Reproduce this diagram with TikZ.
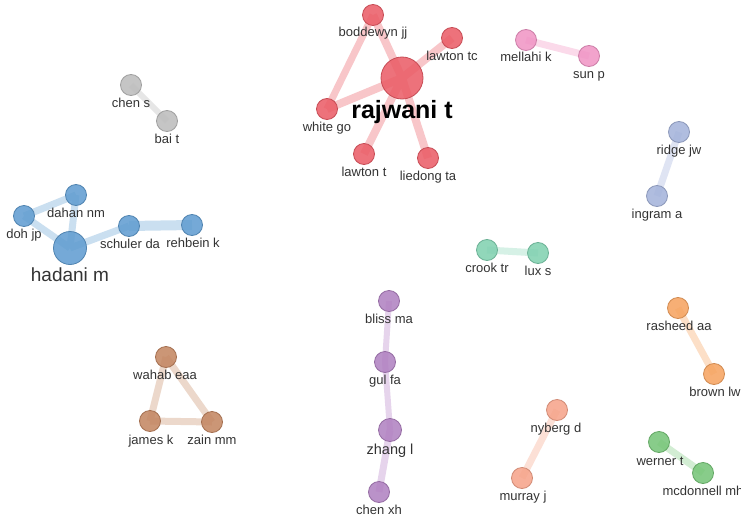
\documentclass[tikz,border=0pt]{standalone}
\usepackage{fontspec}
\setmainfont{Liberation Sans}
\pgfdeclarelayer{bg}
\pgfdeclarelayer{edges}
\pgfsetlayers{bg,edges,main}
\definecolor{labc}{HTML}{333333}
\definecolor{redN}{HTML}{EA5A64}\definecolor{redE}{HTML}{F8C6C9}
\definecolor{pinkN}{HTML}{F093C4}\definecolor{pinkE}{HTML}{FBDAEA}
\definecolor{grayN}{HTML}{BBBBBB}\definecolor{grayE}{HTML}{E6E6E6}
\definecolor{blueN}{HTML}{5E9BD0}\definecolor{blueE}{HTML}{CADFF0}
\definecolor{lavN}{HTML}{A3B2DA}\definecolor{lavE}{HTML}{DFE4F3}
\definecolor{tealN}{HTML}{7ED0AF}\definecolor{tealE}{HTML}{D6F1E6}
\definecolor{purN}{HTML}{AF7FC0}\definecolor{purE}{HTML}{E6D4EC}
\definecolor{brnN}{HTML}{C2845F}\definecolor{brnE}{HTML}{ECD8CB}
\definecolor{salN}{HTML}{F6A288}\definecolor{salE}{HTML}{FCE0D6}
\definecolor{orgN}{HTML}{F6A25E}\definecolor{orgE}{HTML}{FCDFC7}
\definecolor{grnN}{HTML}{74C476}\definecolor{grnE}{HTML}{D2EDD3}
\tikzset{
  nd/.style={circle, inner sep=0pt, minimum size=21pt, fill=#1, draw=#1!85!black, line width=0.8pt, fill opacity=0.85},
  lab/.style={anchor=base, text=labc, font=\fontsize{13}{13}\selectfont, inner sep=0pt},
  ed/.style={line width=7pt, draw=#1, line cap=butt},
}
\begin{document}
\begin{tikzpicture}[x=1pt,y=-1pt]
\useasboundingbox (0,0) rectangle (741,519);
\begin{pgfonlayer}{bg}
\fill[white] (0,0) rectangle (741,519);
\end{pgfonlayer}
\clip (0,0) rectangle (741,519);
% red cluster
\node[nd=redN, minimum size=42pt] (raj) at (402,78) {};
\node[nd=redN] (bod) at (373,15) {};
\node[nd=redN] (ltc) at (452,38) {};
\node[nd=redN] (wgo) at (327,109) {};
\node[nd=redN] (lt) at (364,154) {};
\node[nd=redN] (lie) at (428,158) {};
\node[lab, font=\fontsize{25}{25}\selectfont\bfseries, text=black] (rajL) at (402,118) {rajwani t};
\node[lab] (bodL) at (373,37) {boddewyn jj};
\node[lab] (ltcL) at (452,60) {lawton tc};
\node[lab] (wgoL) at (327,131) {white go};
\node[lab] (ltL) at (364,176) {lawton t};
\node[lab] (lieL) at (428,180) {liedong ta};
% pink
\node[nd=pinkN] (mel) at (526,40) {};
\node[nd=pinkN] (sun) at (589,56) {};
\node[lab] (melL) at (526,61) {mellahi k};
\node[lab] (sunL) at (589,78) {sun p};
% gray
\node[nd=grayN] (chs) at (131,85) {};
\node[nd=grayN] (bai) at (167,121) {};
\node[lab] (chsL) at (131,107) {chen s};
\node[lab] (baiL) at (167,143) {bai t};
% lavender
\node[nd=lavN] (rid) at (679,132) {};
\node[nd=lavN] (ing) at (657,196) {};
\node[lab] (ridL) at (679,154) {ridge jw};
\node[lab] (ingL) at (657,218) {ingram a};
% blue
\node[nd=blueN, minimum size=33pt] (had) at (70,248) {};
\node[nd=blueN] (dah) at (76,195) {};
\node[nd=blueN] (doh) at (24,216) {};
\node[nd=blueN] (sch) at (129,226) {};
\node[nd=blueN] (reh) at (192,225) {};
\node[lab, font=\fontsize{19}{19}\selectfont] (hadL) at (70,281) {hadani m};
\node[lab] (dahL) at (76,217) {dahan nm};
\node[lab] (dohL) at (24,238) {doh jp};
\node[lab] (schL) at (130,248) {schuler da};
\node[lab] (rehL) at (193,247) {rehbein k};
% teal
\node[nd=tealN] (cro) at (487,250) {};
\node[nd=tealN] (lux) at (538,253) {};
\node[lab] (croL) at (487,272) {crook tr};
\node[lab] (luxL) at (538,275) {lux s};
% purple
\node[nd=purN] (bli) at (389,301) {};
\node[nd=purN] (gul) at (385,362) {};
\node[nd=purN, minimum size=23pt] (zha) at (390,430) {};
\node[nd=purN] (cxh) at (379,492) {};
\node[lab] (bliL) at (389,323) {bliss ma};
\node[lab] (gulL) at (385,384) {gul fa};
\node[lab, font=\fontsize{14.5}{14.5}\selectfont] (zhaL) at (390,454) {zhang l};
\node[lab] (cxhL) at (379,514) {chen xh};
% brown
\node[nd=brnN] (wah) at (166,357) {};
\node[nd=brnN] (jam) at (150,421) {};
\node[nd=brnN] (zai) at (212,422) {};
\node[lab] (wahL) at (165,379) {wahab eaa};
\node[lab] (jamL) at (151,444) {james k};
\node[lab] (zaiL) at (212,444) {zain mm};
% salmon
\node[nd=salN] (nyb) at (557,410) {};
\node[nd=salN] (mur) at (522,478) {};
\node[lab] (nybL) at (556,432) {nyberg d};
\node[lab] (murL) at (523,500) {murray j};
% orange
\node[nd=orgN] (ras) at (678,308) {};
\node[nd=orgN] (brw) at (714,374) {};
\node[lab] (rasL) at (679,330) {rasheed aa};
\node[lab] (brwL) at (715,396) {brown lw};
% green
\node[nd=grnN] (wer) at (659,442) {};
\node[nd=grnN] (mcd) at (703,473) {};
\node[lab] (werL) at (660,465) {werner t};
\node[lab] (mcdL) at (703,495) {mcdonnell mh};
% edges
\begin{pgfonlayer}{edges}
\draw[ed=redE, line width=8pt] (raj.center) -- (bod.center);
\draw[ed=redE, line width=8pt] (raj.center) -- (ltc.center);
\draw[ed=redE, line width=8pt] (raj.center) -- (wgo.center);
\draw[ed=redE, line width=8pt] (raj.center) -- (lt.center);
\draw[ed=redE, line width=8pt] (raj.center) -- (lie.center);
\draw[ed=redE, line width=7pt] (bod.center) -- (wgo.center);
\draw[ed=pinkE] (mel.center) -- (sun.center);
\draw[ed=grayE, line width=6pt] (chs.center) -- (bai.center);
\draw[ed=lavE] (rid.center) -- (ing.center);
\draw[ed=blueE] (doh.center) -- (dah.center);
\draw[ed=blueE] (doh.center) -- (had.center);
\draw[ed=blueE] (dah.center) -- (had.center);
\draw[ed=blueE] (had.center) -- (sch.center);
\draw[ed=blueE, line width=10pt] (sch.center) -- (reh.center);
\draw[ed=tealE] (cro.center) -- (lux.center);
\draw[ed=purE, line width=6pt] (bli.center) -- (gul.center);
\draw[ed=purE, line width=6pt] (gul.center) -- (zha.center);
\draw[ed=purE, line width=7pt] (zha.center) -- (cxh.center);
\draw[ed=brnE] (wah.center) -- (jam.center);
\draw[ed=brnE] (wah.center) -- (zai.center);
\draw[ed=brnE] (jam.center) -- (zai.center);
\draw[ed=salE] (nyb.center) -- (mur.center);
\draw[ed=orgE] (ras.center) -- (brw.center);
\draw[ed=grnE] (wer.center) -- (mcd.center);
\end{pgfonlayer}
\end{tikzpicture}
\end{document}
